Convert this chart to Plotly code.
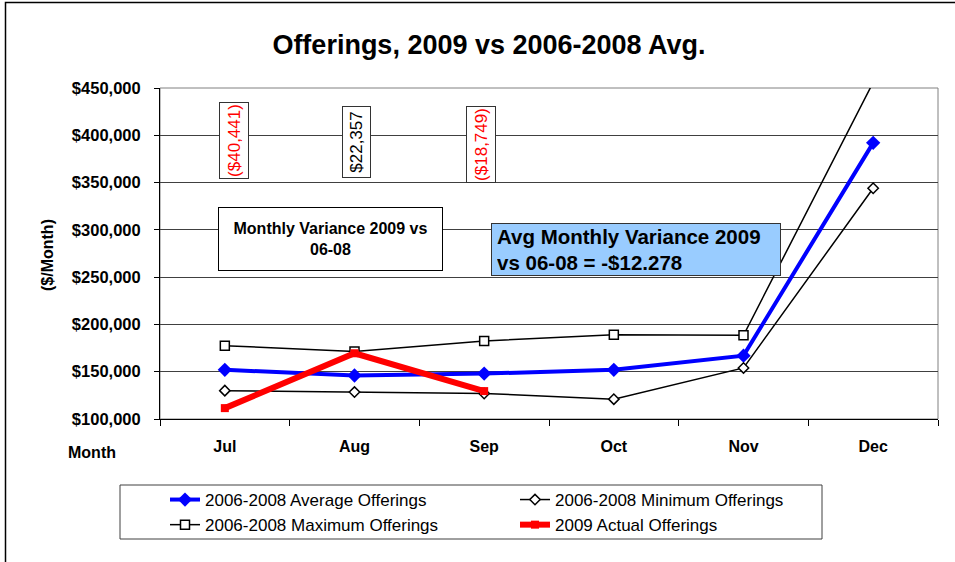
import plotly.graph_objects as go

# ---------------- data ----------------
months = ["Jul", "Aug", "Sep", "Oct", "Nov", "Dec"]
avg_offerings = [152000, 146000, 148000, 152000, 167000, 392000]
min_offerings = [130000, 128500, 127000, 121000, 154000, 344000]
max_offerings = [177500, 171500, 182500, 189000, 188500, 456000]
actual_months = ["Jul", "Aug", "Sep"]
actual_2009 = [111500, 169500, 129500]
variance_labels = ["($40,441)", "$22,357", "($18,749)"]
variance_colors = ["#FF0000", "#000000", "#FF0000"]
y_ticks = [100000, 150000, 200000, 250000, 300000, 350000, 400000, 450000]
y_tick_text = ["${:,}".format(v) for v in y_ticks]

FONT = "Liberation Sans, Arial, sans-serif"

# plot-area geometry (pixels)
L, R, T, B = 160, 938, 88, 419
W, H = 955, 562


def px(x):
    return (x - L) / (R - L)


def py(y):
    return (B - y) / (B - T)


fig = go.Figure()

fig.add_trace(go.Scatter(
    x=months, y=avg_offerings, name="2006-2008 Average Offerings",
    mode="lines+markers",
    line=dict(color="#0000FF", width=4),
    marker=dict(symbol="diamond", size=11, color="#0000FF"),
))
fig.add_trace(go.Scatter(
    x=months, y=min_offerings, name="2006-2008 Minimum Offerings",
    mode="lines+markers",
    line=dict(color="#000000", width=1.5),
    marker=dict(symbol="diamond", size=8, color="#FFFFFF",
                line=dict(color="#000000", width=1.5)),
))
fig.add_trace(go.Scatter(
    x=months, y=max_offerings, name="2006-2008 Maximum Offerings",
    mode="lines+markers",
    line=dict(color="#000000", width=1.5),
    marker=dict(symbol="square", size=9, color="#FFFFFF",
                line=dict(color="#000000", width=1.5)),
))
fig.add_trace(go.Scatter(
    x=actual_months, y=actual_2009, name="2009 Actual Offerings",
    mode="lines+markers",
    line=dict(color="#FF0000", width=6),
    marker=dict(symbol="square", size=8, color="#FF0000"),
))

annotations = []
# vertical variance labels
var_centers = [(234, 141), (356, 142), (481, 145)]
var_sizes = [(75, 28), (70, 27), (75, 28)]
for lab, col, (cx, cy), (w, h) in zip(variance_labels, variance_colors, var_centers, var_sizes):
    annotations.append(dict(
        x=px(cx), y=py(cy), xref="paper", yref="paper",
        text=lab, showarrow=False, textangle=-90,
        font=dict(family=FONT, size=17, color=col),
        width=w, height=h, bgcolor="#FFFFFF",
        bordercolor="#333333", borderwidth=1, borderpad=0,
        xanchor="center", yanchor="middle",
    ))

annotations.append(dict(
    x=px(330.5), y=py(239), xref="paper", yref="paper",
    text="Monthly Variance 2009 vs<br>06-08", showarrow=False,
    font=dict(family=FONT, size=16, color="#000000", weight="bold"),
    width=223, height=62, bgcolor="#FFFFFF",
    bordercolor="#000000", borderwidth=1, borderpad=0,
    xanchor="center", yanchor="middle", align="center",
))
annotations.append(dict(
    x=px(636), y=py(249.5), xref="paper", yref="paper",
    text="Avg Monthly Variance 2009<br>vs 06-08 = -$12,278", showarrow=False,
    font=dict(family=FONT, size=20.5, color="#000000", weight="bold"),
    width=278, height=41, bgcolor="#99CCFF",
    bordercolor="#333333", borderwidth=1, borderpad=5,
    xanchor="center", yanchor="middle", align="left",
))
annotations.append(dict(
    x=px(47), y=py(255), xref="paper", yref="paper",
    text="($/Month)", showarrow=False, textangle=-90,
    font=dict(family=FONT, size=16, color="#000000", weight="bold"),
    xanchor="center", yanchor="middle",
))
annotations.append(dict(
    x=px(92), y=py(452), xref="paper", yref="paper",
    text="Month", showarrow=False,
    font=dict(family=FONT, size=16, color="#000000", weight="bold"),
    xanchor="center", yanchor="middle",
))

shapes = [
    # plot-area frame (gray top/right)
    dict(type="rect", xref="paper", yref="paper", x0=0, x1=1, y0=0, y1=1,
         line=dict(color="#808080", width=1), layer="between"),
    # legend frame
    dict(type="rect", xref="paper", yref="paper",
         x0=px(120), x1=px(822), y0=py(539), y1=py(485),
         line=dict(color="#404040", width=1), layer="above"),
    # outer chart frame
    dict(type="rect", xref="paper", yref="paper",
         x0=px(5.5), x1=px(1000), y0=py(620), y1=py(2.5),
         line=dict(color="#000000", width=1.5), layer="above"),
]

fig.update_layout(
    width=W, height=H,
    margin=dict(l=L, r=W - R, t=T, b=H - B, pad=0),
    paper_bgcolor="#FFFFFF", plot_bgcolor="#FFFFFF",
    font=dict(family=FONT, color="#000000"),
    title=dict(text="Offerings, 2009 vs 2006-2008 Avg.",
               x=489 / W, y=1 - 45 / H, xref="container", yref="container",
               xanchor="center", yanchor="middle",
               font=dict(family=FONT, size=27, color="#000000", weight="bold")),
    showlegend=True,
    legend=dict(orientation="h", x=px(165), xanchor="left", y=py(482), yanchor="top",
                entrywidth=305, traceorder="normal",
                font=dict(family=FONT, size=17, color="#000000"),
                bgcolor="rgba(0,0,0,0)", borderwidth=0),
    annotations=annotations,
    shapes=shapes,
)

fig.update_xaxes(
    type="category", categoryorder="array", categoryarray=months,
    range=[-0.5, 5.5], showgrid=False, zeroline=False,
    showline=True, linecolor="#000000", linewidth=1,
    ticks="outside", ticklen=6, tickcolor="#000000", tickson="boundaries",
    tickfont=dict(family=FONT, size=16, color="#000000", weight="bold"),
    ticklabelstandoff=13,
)
fig.update_yaxes(
    range=[100000, 450000], tickvals=y_ticks, ticktext=y_tick_text,
    showgrid=True, gridcolor="#404040", gridwidth=1, zeroline=False,
    showline=True, linecolor="#000000", linewidth=1,
    ticks="outside", ticklen=5, tickcolor="#000000",
    tickfont=dict(family=FONT, size=16.5, color="#000000", weight="bold"),
    ticklabelstandoff=10,
)

fig.write_html(
    "out.html",
    config={"displayModeBar": False},
    post_script="document.body.style.margin='0';document.body.style.overflow='hidden';",
)
